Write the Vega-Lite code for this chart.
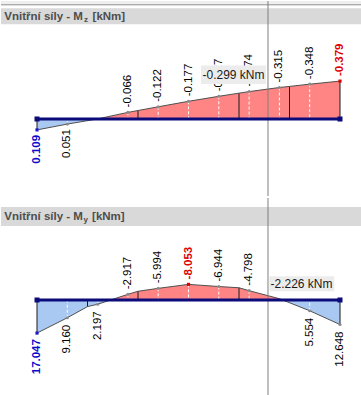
{
  "$schema": "https://vega.github.io/schema/vega-lite/v6.json",
  "padding": 0,
  "spacing": 0,
  "background": "white",
  "config": {"view": {"stroke": null}, "concat": {"spacing": 0}},
  "datasets": {
    "p1": [
      {"x": 0, "v": 0.109, "lab": "0.109", "ext": "max"},
      {"x": 0.6, "v": 0.051, "lab": "0.051", "ext": ""},
      {"x": 1.2, "v": -0.001, "lab": null, "ext": ""},
      {"x": 1.8, "v": -0.066, "lab": "-0.066", "ext": ""},
      {"x": 2.4, "v": -0.122, "lab": "-0.122", "ext": ""},
      {"x": 3.0, "v": -0.177, "lab": "-0.177", "ext": ""},
      {"x": 3.6, "v": -0.227, "lab": "-0.227", "ext": ""},
      {"x": 4.2, "v": -0.274, "lab": "-0.274", "ext": ""},
      {"x": 4.8, "v": -0.315, "lab": "-0.315", "ext": ""},
      {"x": 5.4, "v": -0.348, "lab": "-0.348", "ext": ""},
      {"x": 6.0, "v": -0.379, "lab": "-0.379", "ext": "min"}
    ],
    "p1area": [
      {"x": 0, "v": 0.109, "sg": "pos", "seg": "a"},
      {"x": 0.6, "v": 0.051, "sg": "pos", "seg": "a"},
      {"x": 1.19, "v": 0, "sg": "pos", "seg": "a"},
      {"x": 1.19, "v": 0, "sg": "neg", "seg": "b"},
      {"x": 1.2, "v": -0.001, "sg": "neg", "seg": "b"},
      {"x": 1.8, "v": -0.066, "sg": "neg", "seg": "b"},
      {"x": 2.0, "v": -0.0847, "sg": "neg", "seg": "b"},
      {"x": 2.4, "v": -0.122, "sg": "neg", "seg": "b"},
      {"x": 3.0, "v": -0.177, "sg": "neg", "seg": "b"},
      {"x": 3.6, "v": -0.227, "sg": "neg", "seg": "b"},
      {"x": 4.0, "v": -0.2583, "sg": "neg", "seg": "b"},
      {"x": 4.2, "v": -0.274, "sg": "neg", "seg": "b"},
      {"x": 4.8, "v": -0.315, "sg": "neg", "seg": "b"},
      {"x": 5.0, "v": -0.326, "sg": "neg", "seg": "b"},
      {"x": 5.4, "v": -0.348, "sg": "neg", "seg": "b"},
      {"x": 6.0, "v": -0.379, "sg": "neg", "seg": "b"}
    ],
    "p1nodes": [
      {"x": 0, "v": 0.109}, {"x": 2, "v": -0.0847}, {"x": 4, "v": -0.2583}, {"x": 5, "v": -0.326}, {"x": 6, "v": -0.379}
    ],
    "p1frame": [
      {"part": "strip", "x": -0.7129, "x2": 6.4356, "v": -1.18, "v2": -1.147},
      {"part": "head", "x": -0.7129, "x2": 6.4356, "v": -1.107, "v2": -0.947},
      {"part": "tip", "x": 3.248, "x2": 4.535, "v": -0.535, "v2": -0.35}
    ],
    "p1text": [
      {"part": "h1", "x": -0.6475, "v": -0.987, "lab": "Vnitřní síly - M"},
      {"part": "sub", "x": 0.93, "v": -0.972, "lab": "z"},
      {"part": "h2", "x": 1.1, "v": -0.987, "lab": "[kNm]"},
      {"part": "tip", "x": 3.891, "v": -0.4425, "lab": "-0.299 kNm"}
    ],
    "p2": [
      {"x": 0, "v": 17.047, "lab": "17.047", "ext": "max"},
      {"x": 0.6, "v": 9.16, "lab": "9.160", "ext": ""},
      {"x": 1.2, "v": 2.197, "lab": "2.197", "ext": ""},
      {"x": 1.8, "v": -2.917, "lab": "-2.917", "ext": ""},
      {"x": 2.4, "v": -5.994, "lab": "-5.994", "ext": ""},
      {"x": 3.0, "v": -8.053, "lab": "-8.053", "ext": "min"},
      {"x": 3.6, "v": -6.944, "lab": "-6.944", "ext": ""},
      {"x": 4.2, "v": -4.798, "lab": "-4.798", "ext": ""},
      {"x": 4.8, "v": -0.672, "lab": null, "ext": ""},
      {"x": 5.4, "v": 5.554, "lab": "5.554", "ext": ""},
      {"x": 6.0, "v": 12.648, "lab": "12.648", "ext": ""}
    ],
    "p2area": [
      {"x": 0, "v": 17.047, "sg": "pos", "seg": "a"},
      {"x": 0.6, "v": 9.16, "sg": "pos", "seg": "a"},
      {"x": 1.0, "v": 3.4, "sg": "pos", "seg": "a"},
      {"x": 1.2, "v": 2.197, "sg": "pos", "seg": "a"},
      {"x": 1.458, "v": 0, "sg": "pos", "seg": "a"},
      {"x": 1.458, "v": 0, "sg": "neg", "seg": "b"},
      {"x": 1.8, "v": -2.917, "sg": "neg", "seg": "b"},
      {"x": 2.0, "v": -4.5, "sg": "neg", "seg": "b"},
      {"x": 2.4, "v": -5.994, "sg": "neg", "seg": "b"},
      {"x": 3.0, "v": -8.053, "sg": "neg", "seg": "b"},
      {"x": 3.6, "v": -6.944, "sg": "neg", "seg": "b"},
      {"x": 4.0, "v": -6.3, "sg": "neg", "seg": "b"},
      {"x": 4.2, "v": -4.798, "sg": "neg", "seg": "b"},
      {"x": 4.8, "v": -0.672, "sg": "neg", "seg": "b"},
      {"x": 4.865, "v": 0, "sg": "neg", "seg": "b"},
      {"x": 4.865, "v": 0, "sg": "pos", "seg": "c"},
      {"x": 5.4, "v": 5.554, "sg": "pos", "seg": "c"},
      {"x": 6.0, "v": 12.648, "sg": "pos", "seg": "c"}
    ],
    "p2nodes": [
      {"x": 0, "v": 17.047}, {"x": 1, "v": 3.4}, {"x": 2, "v": -4.5}, {"x": 4, "v": -6.3}, {"x": 6, "v": 12.648}
    ],
    "p2frame": [
      {"part": "head", "x": -0.7129, "x2": 6.4356, "v": -47.94, "v2": -38.14},
      {"part": "tip", "x": 4.6, "x2": 5.887, "v": -12.22, "v2": -4.48}
    ],
    "p2text": [
      {"part": "h1", "x": -0.6475, "v": -41.08, "lab": "Vnitřní síly - M"},
      {"part": "sub", "x": 0.92, "v": -40.2, "lab": "y"},
      {"part": "h2", "x": 1.09, "v": -41.08, "lab": "[kNm]"},
      {"part": "tip", "x": 5.2376, "v": -8.4, "lab": "-2.226 kNm"}
    ],
    "misc": [
      {"part": "cursor1", "x": 4.574, "v": -1.18, "v2": 0.77},
      {"part": "top1", "x": -0.7129, "x2": 6.4356, "v": -1.142},
      {"part": "beam", "x": 0, "x2": 6, "v": 0},
      {"part": "cursor2", "x": 4.574, "v": -52.577, "v2": 50.515}
    ],
    "ends": [{"x": 0, "v": 0}, {"x": 6, "v": 0}]
  },
  "vconcat": [
    {
      "width": 361,
      "height": 195,
      "encoding": {
        "x": {"field": "x", "type": "quantitative", "scale": {"domain": [-0.7129, 6.4356], "nice": false, "zero": false}, "axis": null},
        "y": {"field": "v", "type": "quantitative", "scale": {"domain": [-1.18, 0.77], "reverse": true, "nice": false, "zero": false}, "axis": null}
      },
      "layer": [
        {"data": {"name": "p1frame"}, "transform": [{"filter": "datum.part == 'strip'"}], "mark": {"type": "rect", "color": "#efefef"}, "encoding": {"x2": {"field": "x2"}, "y2": {"field": "v2"}}},
        {"data": {"name": "p1frame"}, "transform": [{"filter": "datum.part == 'head'"}], "mark": {"type": "rect", "color": "#d9d9d9"}, "encoding": {"x2": {"field": "x2"}, "y2": {"field": "v2"}}},
        {"data": {"name": "misc"}, "transform": [{"filter": "datum.part == 'top1'"}], "mark": {"type": "rule", "color": "#8c8c8c", "strokeWidth": 1}, "encoding": {"x2": {"field": "x2"}}},
        {"data": {"name": "p1text"}, "transform": [{"filter": "datum.part == 'h1' || datum.part == 'h2'"}], "mark": {"type": "text", "align": "left", "baseline": "alphabetic", "font": "Liberation Sans", "fontWeight": "bold", "fontSize": 11.5, "color": "#4d4d4d"}, "encoding": {"text": {"field": "lab"}}},
        {"data": {"name": "p1text"}, "transform": [{"filter": "datum.part == 'sub'"}], "mark": {"type": "text", "align": "left", "baseline": "alphabetic", "font": "Liberation Sans", "fontWeight": "bold", "fontSize": 8, "color": "#4d4d4d"}, "encoding": {"text": {"field": "lab"}}},
        {"data": {"name": "p1area"}, "transform": [{"filter": "datum.sg == 'pos'"}], "mark": {"type": "area", "color": "#a9c9f2", "opacity": 1}, "encoding": {"y2": {"datum": 0}, "detail": {"field": "seg"}}},
        {"data": {"name": "p1area"}, "transform": [{"filter": "datum.sg == 'neg'"}], "mark": {"type": "area", "color": "#ff8484", "opacity": 1}, "encoding": {"y2": {"datum": 0}, "detail": {"field": "seg"}}},
        {"data": {"name": "p1"}, "transform": [{"filter": "datum.x > 0 && datum.x < 6 && datum.lab != null"}], "mark": {"type": "rule", "color": "white", "strokeWidth": 1, "strokeDash": [3, 2]}, "encoding": {"y2": {"datum": 0}}},
        {"data": {"name": "p1nodes"}, "mark": {"type": "rule", "color": "#1a1a1a", "strokeWidth": 1}, "encoding": {"y2": {"datum": 0}}},
        {"data": {"name": "p1area"}, "mark": {"type": "line", "color": "#505050", "strokeWidth": 1}, "encoding": {"order": {"field": "x"}}},
        {"data": {"name": "misc"}, "transform": [{"filter": "datum.part == 'cursor1'"}], "mark": {"type": "rule", "color": "#7f7f7f", "strokeWidth": 1}, "encoding": {"y2": {"field": "v2"}}},
        {"data": {"name": "misc"}, "transform": [{"filter": "datum.part == 'beam'"}], "mark": {"type": "rule", "color": "#0b0b7a", "strokeWidth": 3}, "encoding": {"x2": {"field": "x2"}}},
        {"data": {"name": "p1"}, "transform": [{"filter": "datum.lab != null && datum.ext == ''"}], "mark": {"type": "circle", "color": "#8a8a8a", "size": 10, "opacity": 1}, "encoding": {}},
        {"data": {"name": "p1"}, "transform": [{"filter": "datum.ext == 'max'"}], "mark": {"type": "square", "color": "#1a1acc", "size": 10, "opacity": 1}, "encoding": {}},
        {"data": {"name": "p1"}, "transform": [{"filter": "datum.ext == 'min'"}], "mark": {"type": "square", "color": "#e00000", "size": 10, "opacity": 1}, "encoding": {}},
        {"data": {"name": "ends"}, "mark": {"type": "square", "color": "#0b0b7a", "size": 25, "opacity": 1}, "encoding": {}},
        {"data": {"name": "p1"}, "transform": [{"filter": "datum.lab != null && datum.ext == '' && datum.v < 0"}], "mark": {"type": "text", "angle": 270, "align": "left", "baseline": "middle", "dx": 5, "font": "Liberation Sans", "fontSize": 11.5, "color": "#000000"}, "encoding": {"text": {"field": "lab"}}},
        {"data": {"name": "p1"}, "transform": [{"filter": "datum.lab != null && datum.ext == '' && datum.v > 0"}], "mark": {"type": "text", "angle": 270, "align": "right", "baseline": "middle", "dx": -5, "font": "Liberation Sans", "fontSize": 11.5, "color": "#000000"}, "encoding": {"text": {"field": "lab"}}},
        {"data": {"name": "p1"}, "transform": [{"filter": "datum.ext == 'max'"}], "mark": {"type": "text", "angle": 270, "align": "right", "baseline": "middle", "dx": -5, "font": "Liberation Sans", "fontWeight": "bold", "fontSize": 11.5, "color": "#0a0acc"}, "encoding": {"text": {"field": "lab"}}},
        {"data": {"name": "p1"}, "transform": [{"filter": "datum.ext == 'min'"}], "mark": {"type": "text", "angle": 270, "align": "left", "baseline": "middle", "dx": 5, "font": "Liberation Sans", "fontWeight": "bold", "fontSize": 11.5, "color": "#e00000"}, "encoding": {"text": {"field": "lab"}}},
        {"data": {"name": "p1frame"}, "transform": [{"filter": "datum.part == 'tip'"}], "mark": {"type": "rect", "color": "#ececec"}, "encoding": {"x2": {"field": "x2"}, "y2": {"field": "v2"}}},
        {"data": {"name": "p1text"}, "transform": [{"filter": "datum.part == 'tip'"}], "mark": {"type": "text", "align": "center", "baseline": "middle", "font": "Liberation Sans", "fontSize": 12, "color": "#1a1a1a"}, "encoding": {"text": {"field": "lab"}}}
      ]
    },
    {
      "width": 361,
      "height": 200,
      "encoding": {
        "x": {"field": "x", "type": "quantitative", "scale": {"domain": [-0.7129, 6.4356], "nice": false, "zero": false}, "axis": null},
        "y": {"field": "v", "type": "quantitative", "scale": {"domain": [-52.577, 50.515], "reverse": true, "nice": false, "zero": false}, "axis": null}
      },
      "layer": [
        {"data": {"name": "p2frame"}, "transform": [{"filter": "datum.part == 'head'"}], "mark": {"type": "rect", "color": "#d9d9d9"}, "encoding": {"x2": {"field": "x2"}, "y2": {"field": "v2"}}},
        {"data": {"name": "p2text"}, "transform": [{"filter": "datum.part == 'h1' || datum.part == 'h2'"}], "mark": {"type": "text", "align": "left", "baseline": "alphabetic", "font": "Liberation Sans", "fontWeight": "bold", "fontSize": 11.5, "color": "#4d4d4d"}, "encoding": {"text": {"field": "lab"}}},
        {"data": {"name": "p2text"}, "transform": [{"filter": "datum.part == 'sub'"}], "mark": {"type": "text", "align": "left", "baseline": "alphabetic", "font": "Liberation Sans", "fontWeight": "bold", "fontSize": 8, "color": "#4d4d4d"}, "encoding": {"text": {"field": "lab"}}},
        {"data": {"name": "p2area"}, "transform": [{"filter": "datum.sg == 'pos'"}], "mark": {"type": "area", "color": "#a9c9f2", "opacity": 1}, "encoding": {"y2": {"datum": 0}, "detail": {"field": "seg"}}},
        {"data": {"name": "p2area"}, "transform": [{"filter": "datum.sg == 'neg'"}], "mark": {"type": "area", "color": "#ff8484", "opacity": 1}, "encoding": {"y2": {"datum": 0}, "detail": {"field": "seg"}}},
        {"data": {"name": "p2"}, "transform": [{"filter": "datum.x > 0 && datum.x < 6 && datum.lab != null"}], "mark": {"type": "rule", "color": "white", "strokeWidth": 1, "strokeDash": [3, 2]}, "encoding": {"y2": {"datum": 0}}},
        {"data": {"name": "p2nodes"}, "mark": {"type": "rule", "color": "#1a1a1a", "strokeWidth": 1}, "encoding": {"y2": {"datum": 0}}},
        {"data": {"name": "p2area"}, "mark": {"type": "line", "color": "#505050", "strokeWidth": 1}, "encoding": {"order": {"field": "x"}}},
        {"data": {"name": "misc"}, "transform": [{"filter": "datum.part == 'cursor2'"}], "mark": {"type": "rule", "color": "#7f7f7f", "strokeWidth": 1}, "encoding": {"y2": {"field": "v2"}}},
        {"data": {"name": "misc"}, "transform": [{"filter": "datum.part == 'beam'"}], "mark": {"type": "rule", "color": "#0b0b7a", "strokeWidth": 3}, "encoding": {"x2": {"field": "x2"}}},
        {"data": {"name": "p2"}, "transform": [{"filter": "datum.lab != null && datum.ext == ''"}], "mark": {"type": "circle", "color": "#8a8a8a", "size": 10, "opacity": 1}, "encoding": {}},
        {"data": {"name": "p2"}, "transform": [{"filter": "datum.ext == 'max'"}], "mark": {"type": "square", "color": "#1a1acc", "size": 10, "opacity": 1}, "encoding": {}},
        {"data": {"name": "p2"}, "transform": [{"filter": "datum.ext == 'min'"}], "mark": {"type": "square", "color": "#e00000", "size": 10, "opacity": 1}, "encoding": {}},
        {"data": {"name": "ends"}, "mark": {"type": "square", "color": "#0b0b7a", "size": 25, "opacity": 1}, "encoding": {}},
        {"data": {"name": "p2"}, "transform": [{"filter": "datum.lab != null && datum.ext == '' && datum.v < 0"}], "mark": {"type": "text", "angle": 270, "align": "left", "baseline": "middle", "dx": 5, "font": "Liberation Sans", "fontSize": 11.5, "color": "#000000"}, "encoding": {"text": {"field": "lab"}}},
        {"data": {"name": "p2"}, "transform": [{"filter": "datum.lab != null && datum.ext == '' && datum.v > 0"}], "mark": {"type": "text", "angle": 270, "align": "right", "baseline": "middle", "dx": -7, "font": "Liberation Sans", "fontSize": 11.5, "color": "#000000"}, "encoding": {"text": {"field": "lab"}}},
        {"data": {"name": "p2"}, "transform": [{"filter": "datum.ext == 'max'"}], "mark": {"type": "text", "angle": 270, "align": "right", "baseline": "middle", "dx": -6, "font": "Liberation Sans", "fontWeight": "bold", "fontSize": 11.5, "color": "#0a0acc"}, "encoding": {"text": {"field": "lab"}}},
        {"data": {"name": "p2"}, "transform": [{"filter": "datum.ext == 'min'"}], "mark": {"type": "text", "angle": 270, "align": "left", "baseline": "middle", "dx": 5, "font": "Liberation Sans", "fontWeight": "bold", "fontSize": 11.5, "color": "#e00000"}, "encoding": {"text": {"field": "lab"}}},
        {"data": {"name": "p2frame"}, "transform": [{"filter": "datum.part == 'tip'"}], "mark": {"type": "rect", "color": "#ececec"}, "encoding": {"x2": {"field": "x2"}, "y2": {"field": "v2"}}},
        {"data": {"name": "p2text"}, "transform": [{"filter": "datum.part == 'tip'"}], "mark": {"type": "text", "align": "center", "baseline": "middle", "font": "Liberation Sans", "fontSize": 12, "color": "#1a1a1a"}, "encoding": {"text": {"field": "lab"}}}
      ]
    }
  ]
}
